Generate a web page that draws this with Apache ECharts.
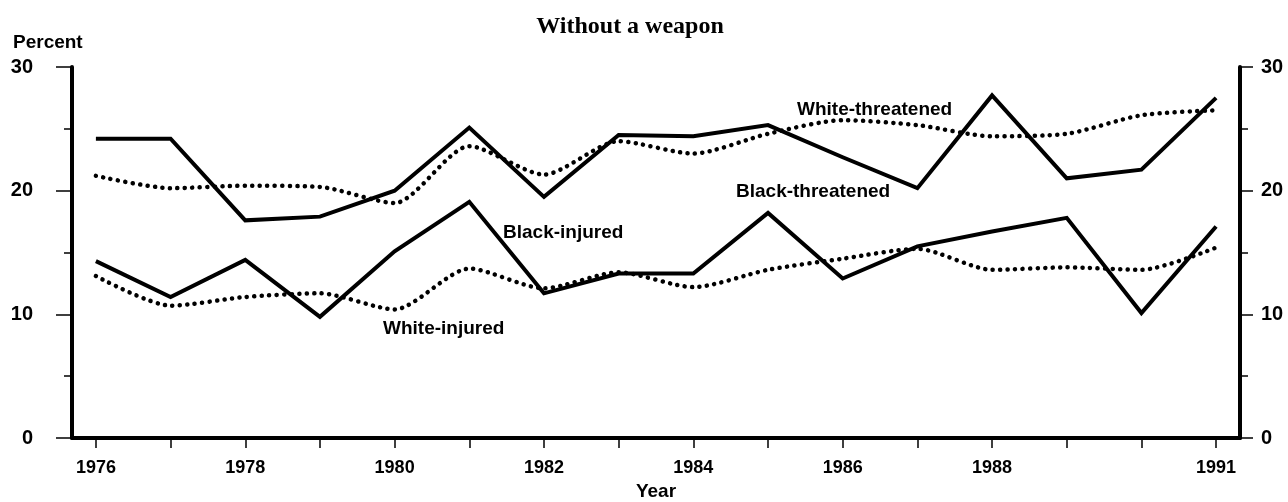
<!DOCTYPE html>
<html>
<head>
<meta charset="utf-8">
<title>Without a weapon</title>
<script src="https://cdn.jsdelivr.net/npm/echarts@6/dist/echarts.min.js"></script>
<style>
    html, body { margin: 0; padding: 0; background: #fff; }
    #chart { width: 1288px; height: 502px; }
</style>
</head>
<body>
<div id="chart"></div>
<script>
const years = [1976, 1977, 1978, 1979, 1980, 1981, 1982, 1983, 1984, 1985, 1986, 1987, 1988, 1989, 1990, 1991];
const tickYears = [1976, 1977, 1978, 1979, 1980, 1981, 1982, 1983, 1984, 1985, 1986, 1987, 1988, 1989, 1990, 1991];
const labelYears = [1976, 1978, 1980, 1982, 1984, 1986, 1988, 1991];

const blackThreatened = [24.2, 24.2, 17.6, 17.9, 20.0, 25.1, 19.5, 24.5, 24.4, 25.3, 22.7, 20.2, 27.7, 21.0, 21.7, 27.5];
const whiteThreatened = [21.2, 20.2, 20.4, 20.3, 19.0, 23.6, 21.3, 24.0, 23.0, 24.6, 25.7, 25.3, 24.4, 24.6, 26.1, 26.5];
const blackInjured = [14.3, 11.4, 14.4, 9.8, 15.1, 19.1, 11.7, 13.3, 13.3, 18.2, 12.9, 15.5, 16.7, 17.8, 10.1, 17.1];
const whiteInjured = [13.1, 10.7, 11.4, 11.7, 10.4, 13.7, 12.1, 13.4, 12.2, 13.6, 14.5, 15.3, 13.6, 13.8, 13.6, 15.4];

const font = 'Liberation Sans, Arial, Helvetica, sans-serif';

function pairs(values) {
    return years.map(function(y, i) { return [y, values[i]]; });
}

function solidLine(name, values) {
    return {
        name: name,
        type: 'line',
        data: pairs(values),
        showSymbol: false,
        lineStyle: { color: '#000', width: 4, join: 'miter' },
        silent: true
    };
}

function dottedLine(name, values) {
    return {
        name: name,
        type: 'line',
        data: pairs(values),
        smooth: 0.25,
        showSymbol: false,
        lineStyle: { color: '#000', width: 4.5, type: [0.1, 7.4], cap: 'round' },
        silent: true
    };
}

function yAxis(position, margin, tickLen) {
    return {
        type: 'value',
        position: position,
        min: 0,
        max: 30,
        interval: 10,
        axisLine: { show: true, lineStyle: { color: '#000', width: 4 } },
        axisTick: { show: true, length: tickLen, lineStyle: { color: '#000', width: 1.5 } },
        minorTick: { show: true, splitNumber: 2, length: 8, lineStyle: { color: '#000', width: 1.5 } },
        splitLine: { show: false },
        axisLabel: { margin: margin, color: '#000', fontFamily: font, fontWeight: 'bold', fontSize: 20 }
    };
}

function seriesLabel(text, x, y) {
    return {
        type: 'text',
        x: x,
        y: y,
        style: { text: text, fill: '#000', font: 'bold 19px ' + font, textAlign: 'left', textVerticalAlign: 'middle' }
    };
}

const chart = echarts.init(document.getElementById('chart'));
chart.setOption({
    animation: false,
    backgroundColor: '#fff',
    title: {
        text: 'Without a weapon',
        left: 625,
        top: 10,
        textAlign: 'center',
        textStyle: { fontFamily: 'Liberation Serif, Times New Roman, serif', fontWeight: 'bold', fontSize: 24, color: '#000' }
    },
    grid: { left: 72, right: 48, top: 67, bottom: 64, outerBoundsMode: 'none', containLabel: false },
    xAxis: {
        type: 'value',
        min: 1975.68,
        max: 1991.32,
        name: 'Year',
        nameLocation: 'middle',
        nameGap: 42,
        nameTextStyle: { fontFamily: font, fontWeight: 'bold', fontSize: 19, color: '#000' },
        axisLine: { show: true, lineStyle: { color: '#000', width: 4 } },
        axisTick: { show: true, length: 10, customValues: tickYears, lineStyle: { color: '#000', width: 1.5 } },
        axisLabel: {
            customValues: labelYears,
            margin: 21,
            color: '#000',
            fontFamily: font,
            fontWeight: 'bold',
            fontSize: 18,
            formatter: function(v) { return String(v); }
        },
        splitLine: { show: false }
    },
    yAxis: [yAxis('left', 39, 16), yAxis('right', 21, 13)],
    graphic: [
        seriesLabel('Percent', 13, 43),
        seriesLabel('White-threatened', 797, 110),
        seriesLabel('Black-threatened', 736, 192),
        seriesLabel('Black-injured', 503, 233),
        seriesLabel('White-injured', 383, 329)
    ],
    series: [
        solidLine('Black-threatened', blackThreatened),
        dottedLine('White-threatened', whiteThreatened),
        solidLine('Black-injured', blackInjured),
        dottedLine('White-injured', whiteInjured)
    ]
});
</script>
</body>
</html>
